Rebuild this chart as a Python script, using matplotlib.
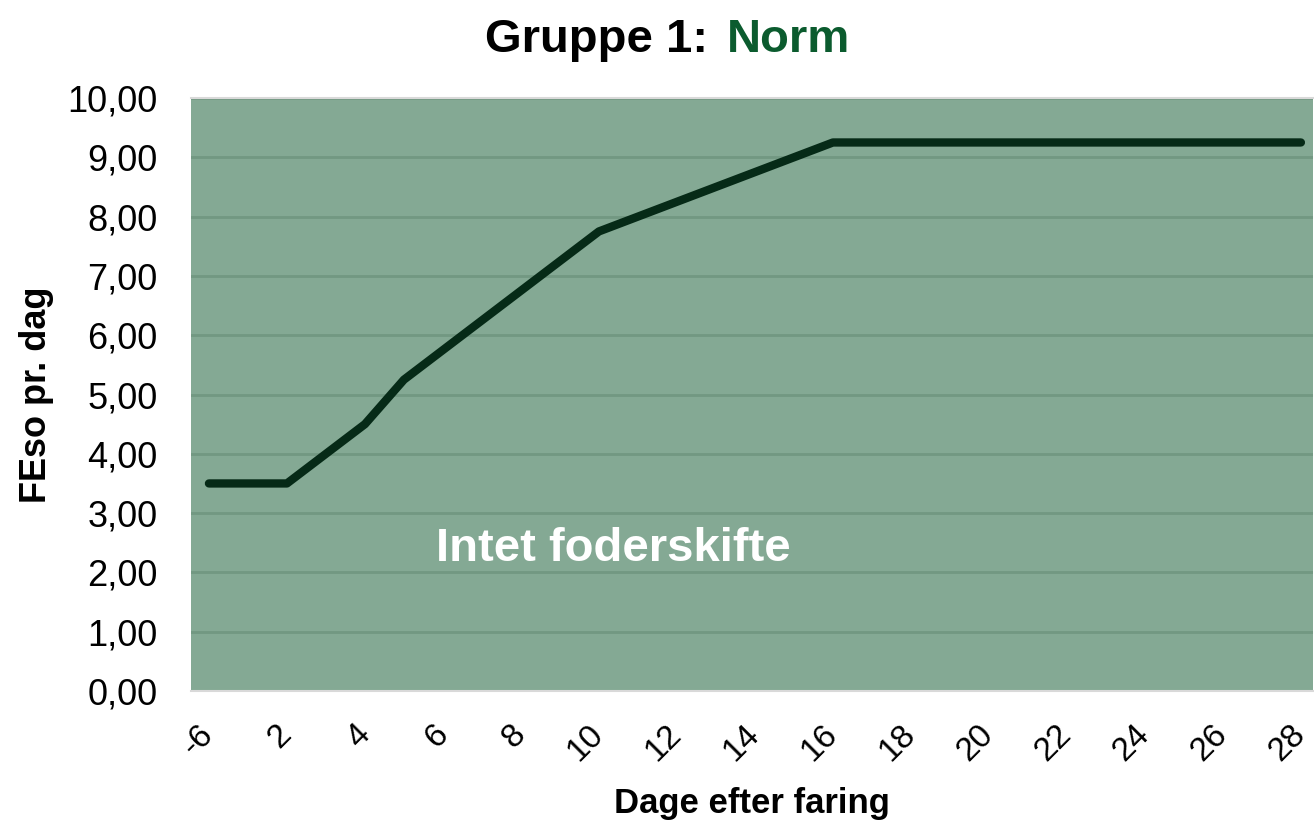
import matplotlib
matplotlib.use("Agg")
import matplotlib.pyplot as plt

days = ["-6"] + [str(d) for d in range(1, 29)]
feso = [3.5, 3.5, 3.5, 4.0, 4.5, 5.25, 5.75, 6.25, 6.75, 7.25, 7.75,
        8.0, 8.25, 8.5, 8.75, 9.0, 9.25,
        9.25, 9.25, 9.25, 9.25, 9.25, 9.25, 9.25, 9.25, 9.25, 9.25, 9.25, 9.25]
yticks = [0, 1, 2, 3, 4, 5, 6, 7, 8, 9, 10]

plt.rcParams['font.family'] = ['Liberation Sans', 'DejaVu Sans']

fig = plt.figure(figsize=(13.14, 8.21), dpi=100)
ax = fig.add_axes([191/1314, 1 - 691/821, (1313 - 191)/1314, (691 - 98)/821])
ax.set_facecolor('#84A994')

x = list(range(len(days)))
ax.plot(x, feso, color='#062A17', lw=6, solid_capstyle='round', solid_joinstyle='round', zorder=3)

ax.set_xlim(-0.46, 28.31)
ax.set_ylim(0, 10)
ax.set_yticks(yticks)
ax.set_yticklabels([f"{v:.2f}".replace('.', ',') for v in yticks], fontsize=26)
ax.set_xticks(x[::2])
ax.set_xticklabels(days[::2], fontsize=24, rotation=45, ha='right', va='center',
                   rotation_mode='anchor')
ax.tick_params(axis='both', length=0)
ax.tick_params(axis='x', pad=28)
ax.tick_params(axis='y', pad=24)
ax.grid(axis='y', color='#729882', lw=2)
ax.set_axisbelow(True)
for s in ['left', 'right']:
    ax.spines[s].set_visible(False)
for s in ['top', 'bottom']:
    ax.spines[s].set_color('#D9D9D9')
    ax.spines[s].set_linewidth(1.5)

ax.set_xlabel('Dage efter faring', fontsize=25, fontweight='bold', labelpad=14)
ax.set_ylabel('FEso pr. dag', fontsize=26, fontweight='bold', labelpad=10)

ax.text((613 - 191) / (1313 - 191), 2.4, 'Intet foderskifte', transform=ax.get_yaxis_transform(),
        ha='center', va='center', color='white', fontsize=34, fontweight='bold')

fig.text(708/1314, 1 - 52/821, 'Gruppe 1:', ha='right', va='baseline', fontsize=34, fontweight='bold', color='black')
fig.text(727/1314, 1 - 52/821, 'Norm', ha='left', va='baseline', fontsize=34, fontweight='bold', color='#0B5B2E')

fig.savefig('out.png', dpi=100)
